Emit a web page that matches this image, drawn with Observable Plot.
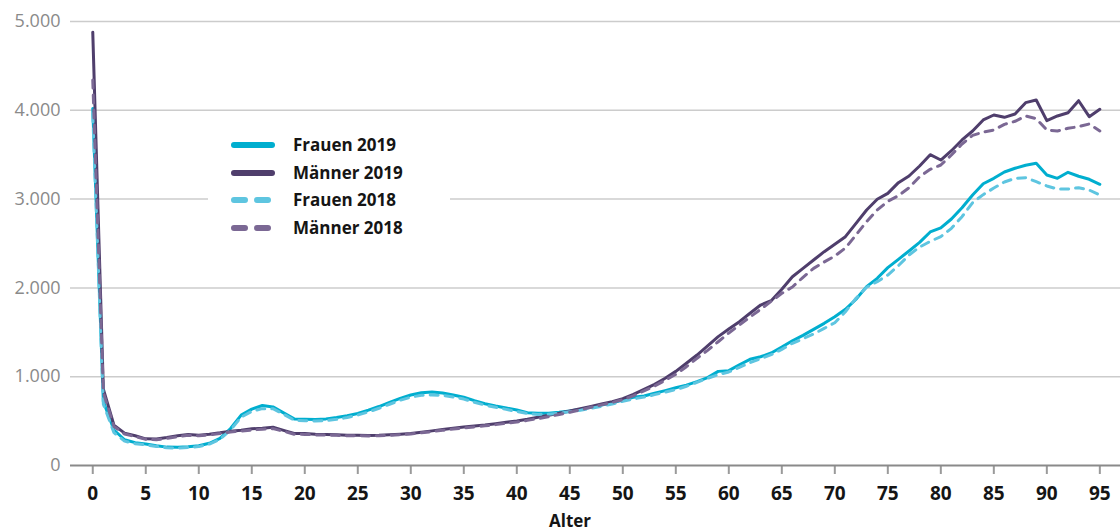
<!DOCTYPE html>
<html>
<head>
<meta charset="utf-8">
<script src="https://cdn.jsdelivr.net/npm/d3@7"></script>
<script src="https://cdn.jsdelivr.net/npm/@observablehq/plot@0.6"></script>
<style>
  body { margin: 0; background: #fff; font-family: "Open Sans", sans-serif; }
  #wrap { position: relative; width: 1120px; height: 531px; overflow: hidden; }
  #legend { position: absolute; left: 208px; top: 125px; width: 242px; height: 122px; background: #fff; padding-top: 6px; box-sizing: border-box; }
  .row { position: relative; height: 27.6px; }
  .row svg { position: absolute; left: 22px; top: 6px; }
  .row span { position: absolute; left: 85px; top: 0; line-height: 27.6px; font-size: 17px; font-weight: 700; color: #151515; white-space: nowrap; }
  #xlabel { position: absolute; left: 520px; width: 100px; top: 509px; text-align: center; font-size: 17px; font-weight: 700; color: #151515; line-height: 24px; }
</style>
</head>
<body>
<div id="wrap"></div>
<script>
// Age categories 0..95
const ages = d3.range(0, 96);
const xTicks = d3.range(0, 96, 5);
const yTicks = [0, 1000, 2000, 3000, 4000, 5000];

const seriesNames = ["Frauen 2019", "Männer 2019", "Frauen 2018", "Männer 2018"];
const seriesColors = ["#00aecf", "#4f3e6c", "#5ec5e0", "#7b6894"];
const seriesDashed = [false, false, true, true];

const frauen2019 = [4020,720,400,290,257,242,222,207,205,212,222,250,305,417,567,635,676,660,593,525,
  522,518,525,540,560,585,623,664,710,755,794,820,828,816,794,768,730,696,670,648,
  625,595,588,588,599,614,633,655,681,707,738,768,783,813,843,875,905,945,990,1060,
  1068,1135,1196,1225,1267,1334,1405,1466,1533,1601,1676,1759,1872,2014,2108,2228,2322,2416,2513,2630,
  2675,2776,2903,3046,3173,3234,3305,3347,3381,3403,3271,3234,3302,3257,3223,3167];

const maenner2019 = [4880,860,455,365,335,300,298,315,335,350,342,353,368,387,398,413,420,432,395,360,
  360,353,350,346,342,340,338,340,345,352,360,375,390,405,420,433,445,456,471,486,
  501,520,543,565,588,614,640,666,692,718,752,800,858,914,982,1060,1151,1244,1346,1451,
  1537,1620,1714,1807,1856,1984,2126,2220,2314,2408,2491,2577,2727,2877,2998,3065,3185,3260,3373,3500,
  3440,3545,3666,3767,3891,3947,3921,3958,4086,4116,3883,3936,3973,4108,3928,4011];

const frauen2018 = [3960,690,370,275,245,232,215,200,197,203,213,242,295,400,545,610,640,640,578,510,
  505,500,505,520,540,568,603,645,690,735,770,790,795,790,772,748,712,680,655,632,
  608,585,575,578,590,605,622,643,668,693,722,750,770,798,826,854,892,937,982,1023,
  1053,1105,1158,1203,1248,1308,1376,1428,1481,1545,1608,1732,1883,2007,2070,2145,2250,2370,2460,2524,
  2577,2671,2802,2960,3050,3125,3193,3234,3241,3196,3148,3114,3114,3128,3102,3046];

const maenner2018 = [4340,820,440,355,325,295,290,305,325,340,335,345,360,378,388,400,408,415,385,352,
  350,345,342,340,336,335,333,335,340,347,355,368,382,396,410,422,435,447,460,475,
  490,508,528,550,575,600,628,655,683,710,742,785,840,895,960,1027,1113,1207,1297,1394,
  1492,1582,1672,1759,1849,1939,2010,2119,2220,2292,2359,2449,2596,2746,2877,2975,3038,3128,3252,3335,
  3384,3497,3620,3718,3755,3778,3842,3876,3936,3906,3778,3767,3797,3816,3846,3767];

const seriesValues = [frauen2019, maenner2019, frauen2018, maenner2018];

const de = d3.formatLocale({decimal: ",", thousands: ".", grouping: [3], currency: ["", "€"]});
const fmt = de.format(",");

const lineMarks = seriesValues.map((vals, i) =>
  Plot.lineY(vals, {
    x: ages,
    stroke: seriesColors[i],
    strokeWidth: 3,
    strokeDasharray: seriesDashed[i] ? "8,7" : null,
    strokeLinecap: "round",
    strokeLinejoin: "round"
  })
);

const chart = Plot.plot({
  width: 1120,
  height: 531,
  marginLeft: 70,
  marginRight: 0,
  marginTop: 21,
  marginBottom: 66,
  style: { fontFamily: "'Open Sans', sans-serif", background: "#fff", overflow: "visible" },
  x: { domain: [-2.1, 96.95] },
  y: { domain: [0, 5000] },
  marks: [
    Plot.gridY(yTicks.filter(d => d > 0), { stroke: "#cccccc", strokeOpacity: 1, strokeWidth: 1.5 }),
    Plot.axisY({ ticks: yTicks, tickSize: 0, tickPadding: 10, tickFormat: fmt, fontSize: 18, fill: "#8a8a8a", label: null }),
    Plot.axisX({ ticks: xTicks, tickSize: 9, tickPadding: 12, stroke: "#9a9a9a", strokeWidth: 2, fill: "#151515", fontSize: 19, fontWeight: "bold", label: null }),
    Plot.ruleY([0], { stroke: "#8a8a8a", strokeWidth: 2 }),
    ...lineMarks
  ]
});

const wrap = document.getElementById("wrap");
wrap.appendChild(chart);

// Legend (HTML overlay inside plot area)
const legend = document.createElement("div");
legend.id = "legend";
seriesNames.forEach((name, i) => {
  const row = document.createElement("div");
  row.className = "row";
  const sw = d3.create("svg").attr("width", 46).attr("height", 16);
  sw.append("line")
    .attr("x1", 4).attr("x2", 42).attr("y1", 8).attr("y2", 8)
    .attr("stroke", seriesColors[i]).attr("stroke-width", 6)
    .attr("stroke-linecap", "round")
    .attr("stroke-dasharray", seriesDashed[i] ? "11,12" : null);
  row.appendChild(sw.node());
  const sp = document.createElement("span");
  sp.textContent = name;
  row.appendChild(sp);
  legend.appendChild(row);
});
wrap.appendChild(legend);

const xl = document.createElement("div");
xl.id = "xlabel";
xl.textContent = "Alter";
wrap.appendChild(xl);
</script>
</body>
</html>
